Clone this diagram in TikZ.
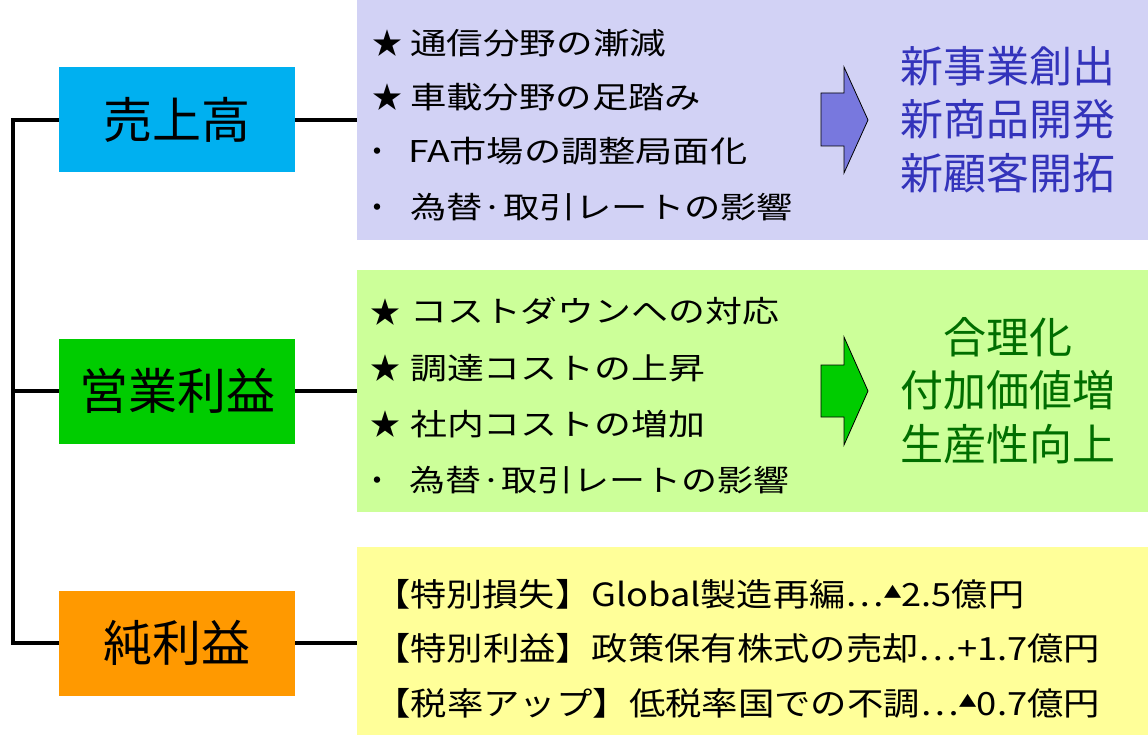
\documentclass[tikz,border=0pt]{standalone}
\usepackage{fontspec}
\setmainfont{Noto Sans CJK JP}
\usepackage{graphicx}
\definecolor{cyanbox}{RGB}{0,176,240}
\definecolor{greenbox}{RGB}{0,204,0}
\definecolor{orangebox}{RGB}{255,153,0}
\definecolor{panelA}{RGB}{210,210,245}
\definecolor{panelB}{RGB}{204,255,153}
\definecolor{panelC}{RGB}{255,255,153}
\definecolor{arrowA}{RGB}{120,120,222}
\definecolor{textblue}{RGB}{51,51,187}
\definecolor{textgreen}{RGB}{0,110,0}
\newcommand\fitx[2]{\resizebox{#1}{\height}{#2}}
\newcommand\smtri{\raisebox{8pt}{\fontsize{16}{16}\selectfont ▲}}
\tikzset{
  catbox/.style={minimum width=236pt, minimum height=105pt, inner sep=0pt, font=\fontsize{49}{55}\selectfont},
  panel/.style={minimum width=791pt, inner sep=0pt},
  item/.style={anchor=base west, inner sep=0pt, font=\fontsize{30}{36}\selectfont},
  yitem/.style={anchor=base west, inner sep=0pt, font=\fontsize{32}{38}\selectfont},
  goal/.style={anchor=base, inner sep=0pt, font=\fontsize{43}{50}\selectfont},
  link/.style={line width=4pt},
  blockarrow/.style={draw=black, line width=0.8pt, line join=miter}
}
\begin{document}
\begin{tikzpicture}[x=1pt,y=-1pt]
\useasboundingbox (0,0) rectangle (1148,735);
% panels
\node[panel, fill=panelA, minimum height=240pt] (p1) at (752.5,120) {};
\node[panel, fill=panelB, minimum height=242pt] (p2) at (752.5,391) {};
\node[panel, fill=panelC, minimum height=188pt] (p3) at (752.5,641) {};
% category boxes
\node[catbox, fill=cyanbox] (b1) at (177,120) {売上高};
\node[catbox, fill=greenbox] (b2) at (177,391) {営業利益};
\node[catbox, fill=orangebox] (b3) at (177,643) {純利益};
% connectors
\coordinate (s) at (12.5,0);
\draw[link] (b1.west) -- (b1.west -| s) -- (b3.west -| s) -- (b3.west);
\draw[link] (b2.west) -- (b2.west -| s);
\draw[link] (b1.east) -- (b1.east -| p1.west);
\draw[link] (b2.east) -- (b2.east -| p2.west);
\draw[link] (b3.east) -- (b3.east -| p3.west);
% panel 1 items
\node[item] (s11) at (372,55) {★};
\node[item] (s12) at (372,109) {★};
\node[item] (s13) at (362,163) {・};
\node[item] (s14) at (362,219) {・};
\node[item] (t11) at (410,55) {\fitx{256pt}{通信分野の漸減}};
\node[item] (t12) at (410,109) {\fitx{291pt}{車載分野の足踏み}};
\node[item] (t13) at (408,163) {\fitx{339pt}{FA市場の調整局面化}};
\node[item] (t14) at (410,219) {\fitx{383pt}{為替·取引レートの影響}};
% panel 2 items
\node[item] (s21) at (370,323) {★};
\node[item] (s22) at (370,379) {★};
\node[item] (s23) at (370,435) {★};
\node[item] (s24) at (362,491) {・};
\node[item] (t21) at (410,323) {\fitx{369pt}{コストダウンへの対応}};
\node[item] (t22) at (410,379) {\fitx{295pt}{調達コストの上昇}};
\node[item] (t23) at (410,435) {\fitx{295pt}{社内コストの増加}};
\node[item] (t24) at (409,491) {\fitx{380pt}{為替·取引レートの影響}};
% panel 3 items
\node[yitem] (t31) at (374,606) {\fitx{650pt}{【特別損失】Global製造再編…\smtri 2.5億円}};
\node[yitem] (t32) at (374,660) {\fitx{726pt}{【特別利益】政策保有株式の売却…+1.7億円}};
\node[yitem] (t33) at (374,715) {\fitx{726pt}{【税率アップ】低税率国での不調…\smtri 0.7億円}};
% block arrows
\draw[blockarrow, fill=arrowA] (821,93) -- (844,93) -- (844,67) -- (868,120) -- (844,173) -- (844,146) -- (821,146) -- cycle;
\draw[blockarrow, fill=greenbox] (821,365) -- (844,365) -- (844,337) -- (868,391) -- (844,445) -- (844,417) -- (821,417) -- cycle;
% goals
\node[goal, text=textblue] (g11) at (1008,83) {新事業創出};
\node[goal, text=textblue] (g12) at (1008,136) {新商品開発};
\node[goal, text=textblue] (g13) at (1008,190) {新顧客開拓};
\node[goal, text=textgreen] (g21) at (1008,353) {合理化};
\node[goal, text=textgreen] (g22) at (1008,406) {付加価値増};
\node[goal, text=textgreen] (g23) at (1008,460) {生産性向上};
\end{tikzpicture}
\end{document}
